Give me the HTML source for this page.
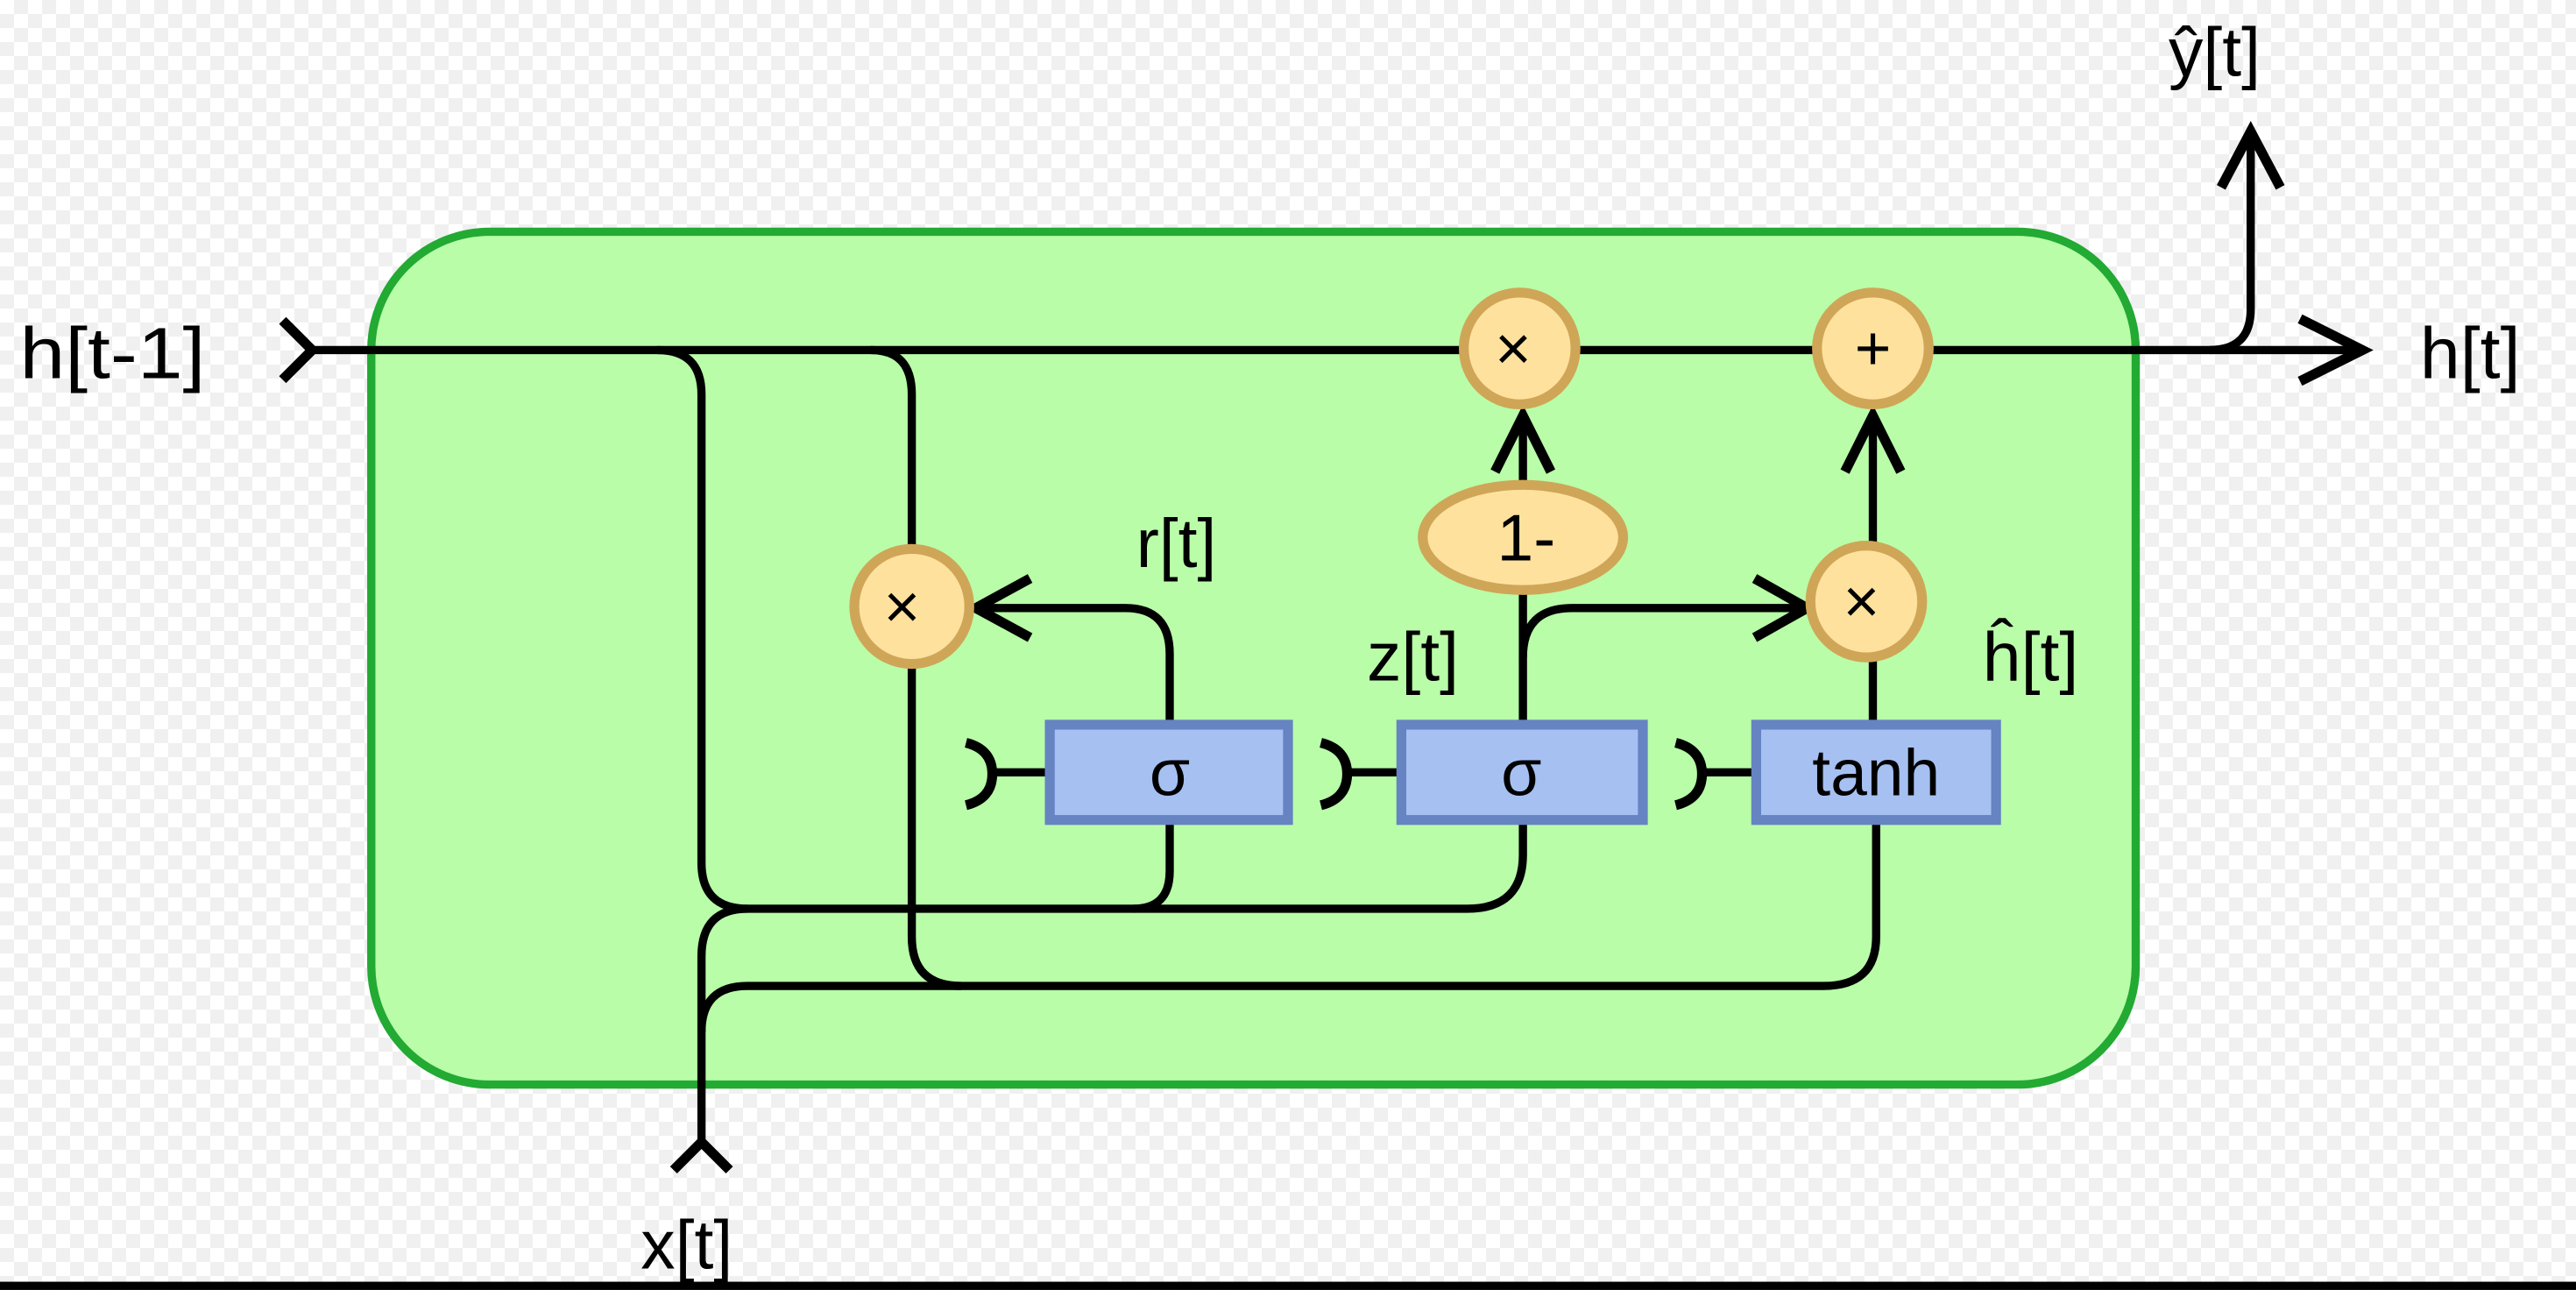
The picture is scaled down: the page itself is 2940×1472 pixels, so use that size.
<!DOCTYPE html>
<html><head><meta charset="utf-8"><style>
html,body{margin:0;padding:0;width:2940px;height:1472px;overflow:hidden;
background-color:#fff;
background-image:linear-gradient(45deg,#f0f0f0 25%,transparent 25%,transparent 75%,#f0f0f0 75%),linear-gradient(45deg,#f0f0f0 25%,transparent 25%,transparent 75%,#f0f0f0 75%);
background-size:32px 32px;background-position:0 0,16px 16px;}
svg{display:block}
text{font-family:"Liberation Sans","DejaVu Sans",sans-serif;fill:#000}
</style></head><body>
<svg width="2940" height="1472" viewBox="0 0 1568 785" xmlns="http://www.w3.org/2000/svg">
<rect x="226" y="141" width="1074" height="519" rx="72" fill="#b9fda9" stroke="#22aa33" stroke-width="5"/>
<g fill="none" stroke="#000" stroke-width="5" stroke-linecap="butt">
<path d="M190 213 H1436"/>
<path d="M172 195 L190 213 L172 231" stroke-width="6"/>
<path d="M1400 194 L1438 213 L1400 232" stroke-width="6"/>
<path d="M1345 213 Q1370 213 1370 188 V82"/>
<path d="M1352 114 L1370 80 L1388 114" stroke-width="6"/>
<path d="M400 213 Q427 213 427 240 V525 Q427 553 455 553 H690 Q712 553 712 530 V500"/>
<path d="M690 553 H893 Q927 553 927 520 V500"/>
<path d="M427 695 V582 Q427 553 455 553"/>
<path d="M427 628 Q427 600 455 600 H1110 Q1142 600 1142 570 V500"/>
<path d="M410 712 L427 695 L444 712" stroke-width="6"/>
<path d="M530 213 Q555 213 555 240 V334"/>
<path d="M555 404 V570 Q555 600 585 600"/>
<path d="M712 440 V398 Q712 370 685 370 H596"/>
<path d="M627 352 L594 370 L627 388" stroke-width="6"/>
<path d="M927 440 V360"/>
<path d="M927 400 Q927 370 957 370 H1098"/>
<path d="M1068 352 L1100 370 L1068 388" stroke-width="6"/>
<path d="M927 295 V254"/>
<path d="M910 287 L927 253 L944 287" stroke-width="6"/>
<path d="M1140 440 V400"/>
<path d="M1140 330 V254"/>
<path d="M1123 287 L1140 253 L1157 287" stroke-width="6"/>
<path d="M588 452 Q604 456 604 471 Q604 486 588 490" stroke-width="6"/>
<path d="M604 470 H639"/>
<path d="M804 452 Q820 456 820 471 Q820 486 804 490" stroke-width="6"/>
<path d="M820 470 H853"/>
<path d="M1020 452 Q1036 456 1036 471 Q1036 486 1020 490" stroke-width="6"/>
<path d="M1036 470 H1069"/>
</g>
<g fill="#ffe19e" stroke="#cfa657" stroke-width="6">
<circle cx="925" cy="212" r="34"/>
<circle cx="1140" cy="212" r="34"/>
<circle cx="555" cy="369" r="35"/>
<circle cx="1136" cy="366" r="34"/>
<ellipse cx="927" cy="327" rx="61" ry="32"/>
</g>
<g fill="#a6c0f2" stroke="#6683c2" stroke-width="6">
<rect x="639" y="441" width="145" height="58"/>
<rect x="853" y="441" width="147" height="58"/>
<rect x="1069" y="441" width="146" height="58"/>
</g>
<g text-anchor="middle" font-size="38">
<text x="921" y="225">×</text>
<text x="1140" y="225">+</text>
<text x="549" y="382">×</text>
<text x="1133" y="379">×</text>
</g>
<g text-anchor="middle" font-size="40">
<text x="929" y="341">1-</text>
<text x="712" y="484">σ</text>
<text x="926" y="484">σ</text>
<text x="1142" y="484">tanh</text>
<text x="1348" y="46" font-size="42">ŷ[t]</text>
<text x="716" y="345" font-size="42">r[t]</text>
<text x="860" y="414" font-size="42">z[t]</text>
<text x="1236" y="414" font-size="42">ĥ[t]</text>
<text x="418" y="772" font-size="42">x[t]</text>
</g>
<text x="12" y="230" font-size="44" textLength="113" lengthAdjust="spacingAndGlyphs">h[t-1]</text>
<text x="1473" y="230" font-size="44">h[t]</text>
<rect x="0" y="780" width="1568" height="5" fill="#000"/>
</svg>
</body></html>
